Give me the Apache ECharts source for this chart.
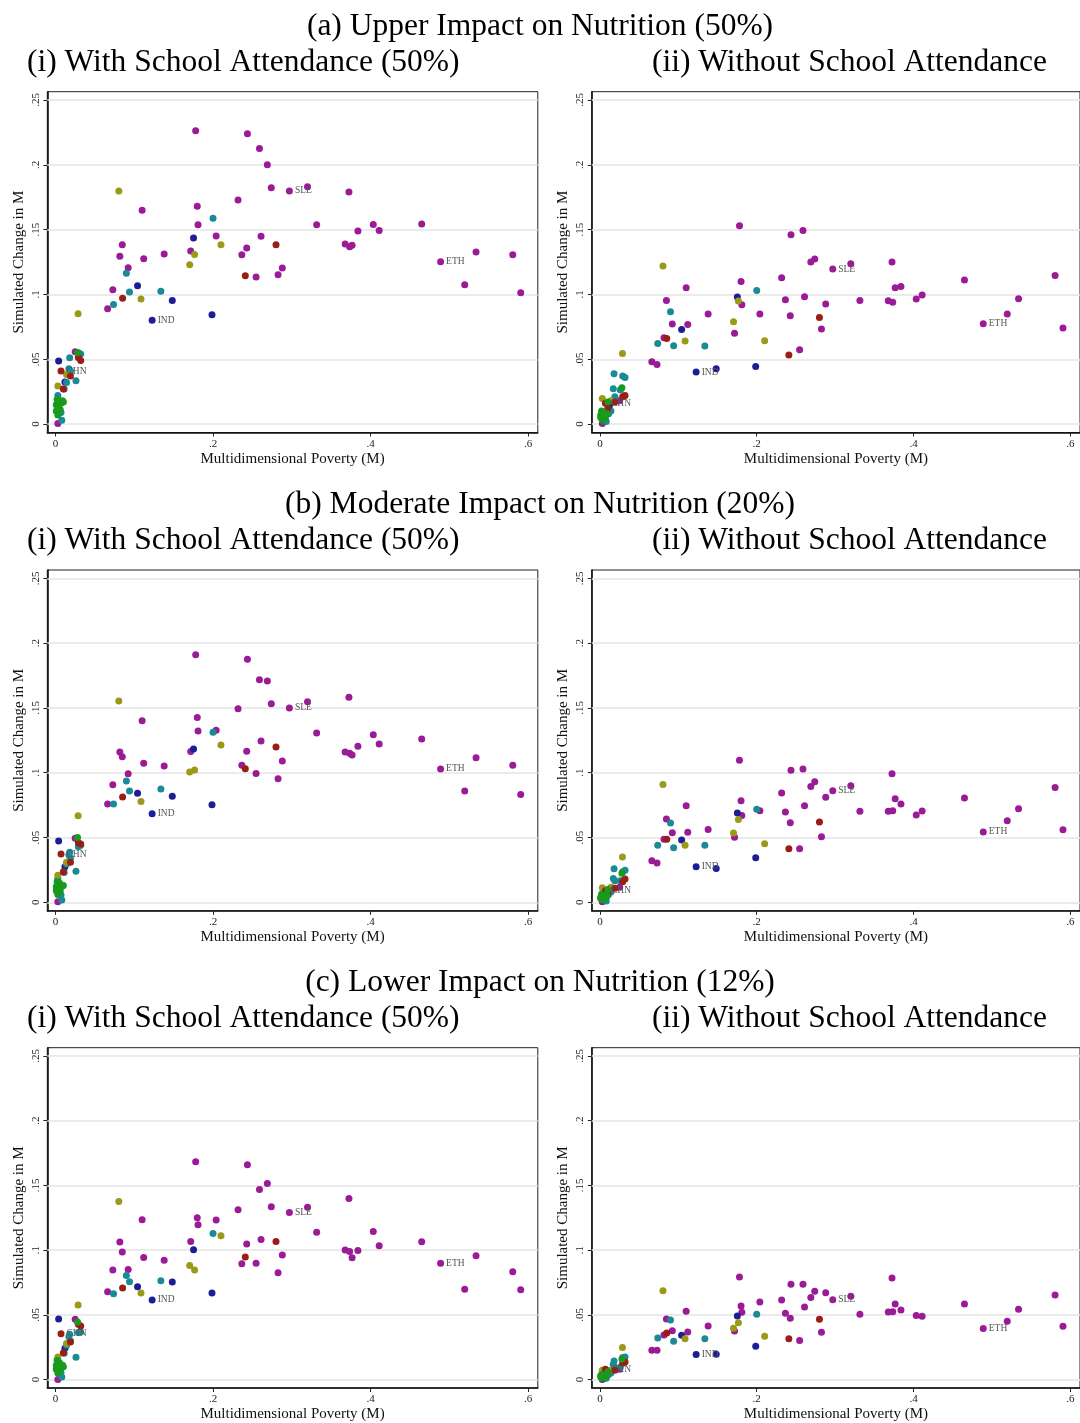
<!DOCTYPE html>
<html><head><meta charset="utf-8">
<script src="https://cdn.jsdelivr.net/npm/echarts@6/dist/echarts.min.js"></script>
<style>html,body{margin:0;padding:0;background:#fff}#c{width:1080px;height:1423px}</style>
</head><body><div id="c"></div>
<script>
// ---------------- DATA ----------------
// Region group of each country (marker colour group)
const countryGroup = [
  'SSA','SSA','SSA','SSA','SSA','SSA','SSA','SSA','SSA','SSA',
  'SSA','SSA','SSA','SSA','SSA','SSA','SSA','SSA','SSA','SSA',
  'SSA','SSA','SSA','SSA','SSA','SSA','SSA','SSA','SSA','SSA',
  'SSA','SSA','SSA','SSA','SSA','SSA','SSA','SSA','SSA','SSA','SSA','SSA',
  'SA','SA','SA','SA','SA','SA','SA',
  'LAC','LAC','LAC','LAC','LAC','LAC','LAC','LAC','LAC','LAC','LAC','LAC','LAC','LAC','LAC','LAC',
  'EAP','EAP','EAP','EAP','EAP','EAP','EAP','EAP',
  'AS','AS','AS','AS','AS','AS','AS','AS',
  'ECA','ECA','ECA','ECA','ECA','ECA','ECA','ECA','ECA','ECA','ECA'
];
// Labels shown next to some markers
const countryLabel = [
  '','','','','','SLE','','','','',
  '','','','','','','','','','',
  '','','','','','','','','','',
  '','','','','','','','','','','','ETH',
  '','','','IND','','','',
  '','','','','','','','','','','','','','','','',
  '','','','','','','','',
  '','','','','','CHN','','',
  '','','','','','','','','','',''
];
// Multidimensional Poverty (M) – x value
const povertyM = [
  0.178,0.2437,0.259,0.269,0.274,0.297,0.320,0.3726,0.2318,0.110,
  0.180,0.181,0.3316,0.4035,0.465,0.411,0.384,0.204,0.261,0.0848,
  0.3678,0.3735,0.3766,0.138,0.1717,0.2366,0.2428,0.0817,0.112,0.0923,
  0.534,0.5806,0.5196,0.5907,0.288,0.2826,0.2547,0.0728,0.0662,0.025,0.003,0.489,
  0.1753,0.1042,0.1483,0.1227,0.1987,0.004,0.012,
  0.200,0.090,0.094,0.1338,0.0737,0.018,0.029,0.032,0.017,0.019,0.026,0.014,0.011,0.003,0.007,0.008,
  0.0804,0.2101,0.1766,0.1704,0.1086,0.0287,0.014,0.003,
  0.280,0.241,0.0852,0.029,0.032,0.007,0.019,0.010,
  0.002,0.005,0.009,0.001,0.004,0.007,0.001,0.003,0.006,0.010,0.028
];
// Simulated change in M – (a) Upper impact, (i) with school attendance
const upperWithSchool = [
  .2263,.224,.2125,.200,.1824,.1798,.1831,.179,.1728,.165,
  .168,.1538,.1538,.154,.1543,.1494,.1489,.145,.1448,.1384,
  .139,.1368,.1379,.1312,.1335,.1307,.1358,.1294,.1276,.1206,
  .1327,.1307,.1075,.1013,.1204,.1152,.1134,.1037,.089,.0558,.0005,.1253,
  .1435,.1067,.0954,.080,.0844,.0486,.0324,
  .1587,.1163,.1019,.1024,.0923,.0512,.055,.054,.0427,.041,.0335,.032,.027,.022,.009,.003,
  .1798,.1384,.1309,.1229,.0965,.0851,.0383,.0293,
  .1384,.1145,.097,.0514,.049,.0409,.037,.027,
  .019,.018,.018,.015,.013,.016,.010,.007,.011,.017,.055
];
const upperWithoutSchool = [
  .153,.1461,.1494,.125,.1273,.1196,.1237,.125,.1129,.1052,
  .110,.092,.0954,.0965,.1111,.0995,.1062,.0849,.0982,.0954,
  .0952,.0939,.1052,.0849,.070,.0959,.0836,.0666,.0769,.0772,
  .0967,.1147,.0849,.0741,.0926,.0733,.0574,.046,.0481,.018,.0005,.0774,
  .098,.073,.0427,.0401,.0445,.003,.0139,
  .1031,.0867,.0604,.0602,.0622,.0388,.037,.036,.0273,.021,.0262,.010,.008,.009,.005,.002,
  .1219,.0643,.0949,.079,.064,.0545,.018,.0198,
  .0823,.0532,.0661,.021,.022,.016,.017,.012,
  .010,.009,.008,.007,.006,.007,.005,.003,.005,.017,.028
];
const moderateWithSchool = [
  .1911,.1875,.1718,.1708,.1533,.150,.1548,.1582,.1494,.1402,
  .1427,.1322,.1307,.1294,.126,.1222,.1204,.1327,.1245,.1124,
  .116,.115,.1137,.1052,.1163,.1057,.1165,.116,.1073,.0993,
  .1116,.1057,.0859,.0833,.1091,.0954,.0995,.0908,.0759,.0494,.0005,.1029,
  .1183,.0841,.0818,.0684,.0754,.0473,.0275,
  .1312,.0936,.0859,.0874,.0759,.0386,.043,.044,.0365,.034,.024,.0296,.023,.0185,.0057,.0018,
  .1553,.1214,.1021,.1006,.0779,.0669,.031,.021,
  .1199,.1031,.0813,.046,.045,.0373,.031,.0237,
  .016,.015,.013,.012,.011,.012,.009,.006,.009,.013,.050
];
const moderateWithoutSchool = [
  .1096,.1019,.1029,.0893,.0931,.0862,.090,.0993,.0844,.0746,
  .0784,.0671,.0702,.0674,.0805,.0705,.0759,.0707,.0746,.0643,
  .0702,.0707,.080,.0563,.0502,.0697,.0615,.0486,.054,.0538,
  .0723,.0887,.063,.0561,.081,.0507,.0414,.0303,.0321,.0116,.0005,.0543,
  .0689,.0481,.0262,.0275,.0345,.0018,.009,
  .0718,.0612,.0422,.044,.044,.026,.0237,.0247,.0185,.0167,.0167,.008,.006,.007,.003,.001,
  .091,.0453,.064,.0535,.044,.035,.0116,.0113,
  .062,.0414,.0486,.016,.018,.009,.0108,.007,
  .006,.005,.005,.004,.004,.005,.003,.002,.003,.010,.0224
];
const lowerWithSchool = [
  .1682,.1659,.1469,.1515,.1335,.1291,.1332,.1399,.1312,.1235,
  .125,.1196,.1139,.1145,.1065,.1034,.0998,.1232,.1083,.0985,
  .1001,.099,.0941,.0921,.1067,.0895,.1047,.1062,.0944,.0851,
  .0957,.0833,.0697,.0694,.0962,.0826,.0898,.0846,.0679,.0466,.0,.0898,
  .1003,.0718,.0754,.0615,.0669,.0468,.0242,
  .1129,.0805,.0756,.0764,.0664,.035,.0363,.0368,.033,.0298,.0172,.0265,.0203,.015,.0054,.002,
  .1376,.1111,.0846,.0882,.0669,.0576,.0278,.0175,
  .1067,.0947,.0707,.0427,.0414,.0355,.029,.0208,
  .015,.013,.011,.011,.009,.010,.008,.005,.007,.010,.0445
];
const lowerWithoutSchool = [
  .0792,.0736,.0736,.0635,.0682,.0617,.0643,.0784,.0615,.0527,
  .0568,.052,.0504,.0496,.0584,.0489,.0538,.0599,.0561,.0468,
  .0522,.0525,.0584,.0414,.0376,.0512,.0473,.0345,.0368,.0378,
  .0543,.0653,.045,.0412,.0671,.0365,.0301,.0226,.0226,.008,.0,.0394,
  .0491,.0342,.0195,.0193,.0257,.0008,.0059,
  .0504,.046,.0296,.0316,.0322,.0144,.017,.0175,.0118,.0093,.0098,.005,.004,.004,.002,.001,
  .0687,.0334,.044,.0396,.0316,.0247,.0075,.0072,
  .0466,.0316,.036,.0126,.0136,.008,.0072,.0054,
  .004,.003,.003,.003,.002,.003,.002,.001,.002,.006,.016
];
const groupOrder = ['SSA','SA','LAC','EAP','AS','ECA'];
const xTickValues = [0, 0.2, 0.4, 0.6];
const xTickLabels = ['0', '.2', '.4', '.6'];
const yTickValues = [0, 0.05, 0.1, 0.15, 0.2, 0.25];
const yTickLabels = ['0', '.05', '.1', '.15', '.2', '.25'];
const rowTitles = ['(a) Upper Impact on Nutrition (50%)', '(b) Moderate Impact on Nutrition (20%)', '(c) Lower Impact on Nutrition (12%)'];
const colTitles = ['(i) With School Attendance (50%)', '(ii) Without School Attendance'];
const xAxisTitle = 'Multidimensional Poverty (M)';
const yAxisTitle = 'Simulated Change in M';

// ---------------- STYLE / LAYOUT ----------------
const groupColor = {SSA:'#9b1b96', SA:'#1f1c98', LAC:'#1a8a97', EAP:'#9a9a1a', AS:'#9a1d16', ECA:'#1a9a1c'};
const SERIF = '"Liberation Serif","Times New Roman",serif';
const panelY = [upperWithSchool, upperWithoutSchool, moderateWithSchool, moderateWithoutSchool, lowerWithSchool, lowerWithoutSchool];
const rowTop = [91.7, 570, 1047.7];
const rowTitleTop = [11, 489, 967];
const colLayout = [
  {left: 47.3, width: 490.5, min: -0.0104, max: 0.6124},
  {left: 591.8, width: 490.5, min: -0.0104, max: 0.6124}
];
const plotH = 340.8;

function nearestLabel(v, vals, labs) {
  let bi = 0, bd = Infinity;
  vals.forEach((t, i) => { const d = Math.abs(t - v); if (d < bd) { bd = d; bi = i; } });
  return labs[bi];
}

const grids = [], xAxes = [], yAxes = [], series = [], titles = [];
rowTitles.forEach((t, r) => {
  titles.push({text: t, left: 'center', top: rowTitleTop[r], padding: 0,
    textStyle: {fontFamily: SERIF, fontSize: 31.5, fontWeight: 'normal', color: '#000'}});
  titles.push({text: colTitles[0], left: 27, top: rowTitleTop[r] + 36, padding: 0,
    textStyle: {fontFamily: SERIF, fontSize: 31.5, fontWeight: 'normal', color: '#000'}});
  titles.push({text: colTitles[1], right: 33, top: rowTitleTop[r] + 36, padding: 0,
    textStyle: {fontFamily: SERIF, fontSize: 31.5, fontWeight: 'normal', color: '#000'}});
});

for (let p = 0; p < 6; p++) {
  const r = Math.floor(p / 2), c = p % 2, L = colLayout[c];
  grids.push({left: L.left, top: rowTop[r], width: L.width, height: plotH, show: true,
    borderColor: '#222', borderWidth: 1, backgroundColor: 'transparent', containLabel: false});
  xAxes.push({type: 'value', gridIndex: p, min: L.min, max: L.max,
    name: xAxisTitle, nameLocation: 'middle', nameGap: 19,
    nameTextStyle: {fontFamily: SERIF, fontSize: 15, color: '#111', verticalAlign: 'top'},
    axisLine: {show: true, onZero: false, lineStyle: {color: '#111', width: 1.6}},
    axisTick: {show: true, length: 4, customValues: xTickValues, lineStyle: {color: '#222'}},
    axisLabel: {customValues: xTickValues, margin: 6, fontFamily: SERIF, fontSize: 11, color: '#222',
      formatter: v => nearestLabel(v, xTickValues, xTickLabels)},
    splitLine: {show: false}});
  yAxes.push({type: 'value', gridIndex: p, min: -0.0065, max: 0.2564,
    name: yAxisTitle, nameLocation: 'middle', nameGap: 21, nameRotate: 90,
    nameTextStyle: {fontFamily: SERIF, fontSize: 15, color: '#111'},
    axisLine: {show: true, onZero: false, lineStyle: {color: '#111', width: 1.6}},
    axisTick: {show: true, length: 4, customValues: yTickValues, lineStyle: {color: '#222'}},
    axisLabel: {customValues: yTickValues, rotate: 90, margin: 6, fontFamily: SERIF, fontSize: 11, color: '#222',
      formatter: v => nearestLabel(v, yTickValues, yTickLabels)},
    splitLine: {show: false}});
  // horizontal grid lines (kept beneath the markers)
  series.push({type: 'scatter', xAxisIndex: p, yAxisIndex: p, data: [], z: 1, silent: true,
    markLine: {silent: true, z: 1, symbol: 'none', animation: false, label: {show: false},
      emphasis: {disabled: true},
      lineStyle: {color: '#e4e4e4', width: 1.5, type: 'solid'},
      data: yTickValues.map(v => ({yAxis: v}))}});
  const ys = panelY[p];
  groupOrder.forEach(g => {
    const data = [];
    povertyM.forEach((x, i) => {
      if (countryGroup[i] !== g) return;
      const item = {value: [x, ys[i]]};
      if (countryLabel[i]) {
        item.label = {show: true, position: 'right', distance: 2, formatter: countryLabel[i],
          fontFamily: SERIF, fontSize: 9.5, color: '#555'};
      }
      data.push(item);
    });
    series.push({type: 'scatter', name: g, xAxisIndex: p, yAxisIndex: p, z: 10, animation: false,
      symbol: 'circle', symbolSize: 7, itemStyle: {color: groupColor[g], opacity: 1},
      emphasis: {disabled: true}, data: data});
  });
}

const chart = echarts.init(document.getElementById('c'), null, {renderer: 'canvas'});
chart.setOption({animation: false, backgroundColor: '#fff', title: titles,
  grid: grids, xAxis: xAxes, yAxis: yAxes, series: series});
</script></body></html>
